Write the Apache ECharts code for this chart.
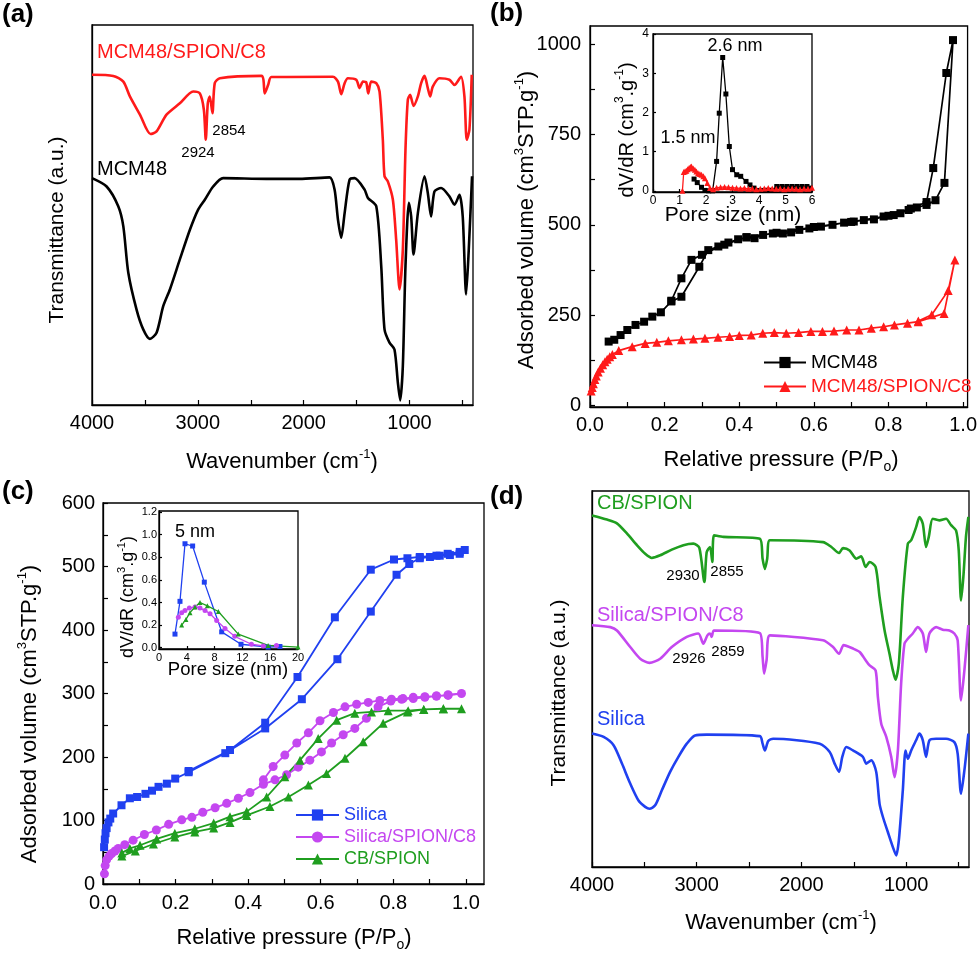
<!DOCTYPE html>
<html>
<head>
<meta charset="utf-8">
<script src="https://cdn.jsdelivr.net/npm/echarts@6/dist/echarts.min.js"></script>
<style>
  html, body { margin: 0; padding: 0; background: #fff; }
  #chart { width: 980px; height: 956px; }
</style>
</head>
<body>
<div id="chart"></div>
<script>
// ---- (a) FTIR, MCM48 series ----
var aRedWn = [4000,3799,3704,3642,3547,3447,3390,3296,3170,3044,2981,2943,2925,2906,2887,2862,2840,2792,2399,2368,2336,2305,1723,1676,1645,1613,1582,1503,1472,1440,1409,1390,1362,1314,1283,1252,1236,1204,1157,1126,1094,1063,1038,1016,994,962,921,890,858,827,805,780,717,623,575,513,481,459,434,412];
var aRedT = [86.9,86.6,85.1,81.2,76.4,71.3,72.0,76.4,79.4,82.5,82.0,77.7,69.8,79.4,81.2,76.8,84.7,86.0,86.6,82.0,84.2,86.3,86.4,85.1,81.8,84.7,86.0,85.6,83.4,85.1,84.9,82.0,85.1,84.7,82.5,69.8,60.2,58.8,54.0,43.5,30.4,40.9,67.2,80.3,81.6,78.7,81.2,84.7,86.6,83.4,81.2,83.8,86.0,85.6,84.2,86.4,81.2,69.8,72.4,86.9];
var aBlkWn = [4000,3862,3752,3704,3657,3579,3516,3453,3390,3327,3264,3170,3075,2997,2934,2855,2761,2352,2038,1755,1708,1676,1645,1613,1566,1519,1425,1393,1314,1267,1236,1189,1142,1110,1088,1063,1038,1006,984,962,921,858,827,796,764,701,623,575,528,497,465,440,409];
var aBlkT = [59.7,57.5,52.3,47.0,34.8,25.1,19.9,17.4,19.0,26.0,30.4,38.3,46.1,51.4,54.0,57.5,59.7,59.5,59.5,59.9,56.7,48.8,44.0,50.5,59.3,59.7,56.7,54.5,52.3,36.5,19.9,16.4,14.6,5.9,1.2,10.2,36.5,53.2,49.6,39.6,50.5,60.2,55.8,49.6,56.2,57.1,54.9,52.7,55.3,49.6,29.1,40.9,60.2];

// ---- (b) N2 isotherms ----
var mcmAdsP = [0.050,0.065,0.082,0.100,0.122,0.145,0.167,0.190,0.218,0.245,0.293,0.317,0.344,0.371,0.397,0.419,0.441,0.464,0.490,0.517,0.539,0.561,0.588,0.619,0.650,0.681,0.707,0.734,0.761,0.787,0.814,0.832,0.854,0.876,0.902,0.926,0.950,0.973];
var mcmAdsV = [177,182,195,209,223,232,246,258,288,301,384,430,440,451,460,465,463,472,476,476,479,486,490,495,500,506,509,513,515,523,527,532,541,548,555,568,616,1011];
var mcmDesP = [0.955,0.920,0.902,0.860,0.800,0.700,0.600,0.500,0.420,0.360,0.300,0.272,0.245,0.218];
var mcmDesV = [920,657,563,545,525,508,494,478,466,445,417,403,352,290];
var mspAdsP = [0.003,0.006,0.009,0.013,0.017,0.022,0.028,0.034,0.040,0.046,0.053,0.060,0.077,0.113,0.148,0.179,0.210,0.245,0.277,0.308,0.343,0.374,0.400,0.432,0.463,0.494,0.526,0.559,0.592,0.623,0.654,0.688,0.721,0.754,0.787,0.816,0.851,0.880,0.949,0.978];
var mspAdsV = [40,50,60,72,82,93,103,113,121,128,135,141,152,163,172,175,179,182,184,186,189,191,194,195,200,202,200,202,205,205,206,209,209,214,218,223,228,232,255,403];
var mspDesP = [0.960,0.916,0.880];
var mspDesV = [318,251,234];

// (b) inset, pore size distribution
var psdMcmR = [1.55,1.67,1.83,1.96,2.10,2.25,2.40,2.50,2.63,2.75,2.88,3.00,3.16,3.31,3.51,3.66,3.81,3.98,4.15,4.32,4.50,4.67,4.86,5.05,5.24,5.43,5.62,5.81,5.93];
var psdMcmV = [0.30,0.21,0.09,0.01,0,0,0.75,1.98,3.40,2.47,1.13,0.54,0.41,0.37,0.24,0.15,0.07,0.01,0.01,0.01,0.01,0.11,0.11,0.11,0.11,0.11,0.11,0.11,0.07];
var psdMspR = [1.11,1.16,1.21,1.26,1.31,1.36,1.41,1.45,1.52,1.58,1.64,1.70,1.77,1.83,1.90,1.96,2.05,2.15,2.27,2.40,2.55,2.70,2.85,3.00,3.15,3.30,3.45,3.60,3.75,3.90,4.05,4.20,4.35,4.50,4.65,4.80,4.95,5.10,5.25,5.40,5.55,5.70,5.85,6.00];
var psdMspV = [0,0.48,0.50,0.51,0.55,0.58,0.61,0.62,0.57,0.54,0.49,0.45,0.43,0.41,0.37,0.32,0.20,0.07,0.04,0.08,0.09,0.10,0.09,0.08,0.07,0.06,0.07,0.05,0.06,0.04,0.05,0.06,0.07,0.06,0.05,0.06,0.04,0.05,0.06,0.05,0.04,0.06,0.05,0.08];

// ---- (c) N2 isotherms ----
var silAdsP = [0.003,0.005,0.007,0.010,0.015,0.020,0.028,0.051,0.074,0.094,0.117,0.135,0.153,0.176,0.199,0.236,0.337,0.447,0.548,0.646,0.738,0.809,0.844,0.873,0.901,0.928,0.956,0.983,0.997];
var silAdsV = [58,70,80,88,97,103,111,124,135,137,142,147,153,158,166,176,206,245,291,354,429,487,504,513,515,517,518,520,526];
var silDesP = [0.983,0.950,0.919,0.873,0.839,0.802,0.738,0.639,0.536,0.447,0.350,0.236];
var silDesV = [523,520,517,515,513,511,495,420,326,254,211,178];
var sscAdsP = [0.004,0.006,0.010,0.017,0.024,0.033,0.042,0.060,0.083,0.114,0.147,0.181,0.217,0.245,0.275,0.309,0.341,0.373,0.405,0.442,0.474,0.506,0.538,0.570,0.602,0.630,0.662,0.694,0.726,0.758,0.793,0.823,0.855,0.887,0.919,0.951,0.988];
var sscAdsV = [16,29,38,44,48,52,56,62,69,78,85,94,101,105,113,120,127,135,144,157,164,172,184,195,208,222,235,245,261,279,288,291,292,294,296,297,300];
var sscDesP = [0.951,0.919,0.887,0.855,0.827,0.795,0.763,0.731,0.699,0.667,0.635,0.598,0.566,0.534,0.501,0.469,0.442];
var sscDesV = [298,296,295,294,292,291,289,286,283,279,270,257,238,222,203,185,164];
var cbAdsP = [0.052,0.089,0.139,0.198,0.253,0.305,0.350,0.396,0.460,0.511,0.566,0.616,0.667,0.717,0.772,0.839,0.884,0.938,0.988];
var cbAdsV = [44,52,63,74,82,88,97,108,122,137,156,174,198,224,253,271,275,276,276];
var cbDesP = [0.938,0.884,0.841,0.786,0.740,0.694,0.644,0.593,0.543,0.501,0.451,0.396,0.350,0.305,0.253,0.198,0.148,0.102,0.074,0.052];
var cbDesV = [276,275,273,273,271,269,258,229,195,169,137,114,106,96,87,80,71,61,56,49];

// (c) inset
var psdSilR = [2.30,3.02,3.74,4.84,6.52,9.02,11.8,15.7,17.4];
var psdSilV = [0.12,0.41,0.92,0.90,0.58,0.14,0.03,0.005,0.01];
var psdSscR = [2.78,3.26,3.74,4.37,5.18,5.9,6.62,7.34,8.3,9.5,10.9,13.3,15.0,16.9];
var psdSscV = [0.27,0.31,0.33,0.35,0.36,0.35,0.33,0.30,0.24,0.17,0.10,0.03,0.015,0.02];
var psdCbR = [3.26,3.88,4.46,5.18,5.9,6.96,8.54,11.4,15.7,20];
var psdCbV = [0.20,0.25,0.31,0.36,0.40,0.37,0.32,0.12,0.02,0.005];

// ---- (d) FTIR ----
var dCbWn = [4000,3857,3762,3667,3571,3492,3429,3349,3238,3127,3032,2975,2927,2905,2873,2851,2835,2746,2397,2371,2349,2327,2302,1794,1714,1641,1603,1540,1476,1429,1387,1349,1292,1254,1206,1159,1127,1102,1070,1032,984,952,905,873,841,810,784,746,683,619,571,524,498,476,454,429,406];
var dCbT = [93.5,92.4,91.4,88.7,85.6,83.3,82.2,82.9,84.4,85.6,86.0,84.9,75.8,83.7,85.1,81.1,88.2,87.8,87.3,82.0,79.3,82.0,86.9,86.4,85.1,83.5,84.8,84.2,82.0,82.6,79.8,81.1,79.8,71.8,62.9,56.7,52.3,49.8,54.1,71.8,86.0,86.9,90.4,93.1,91.3,85.1,87.8,92.6,92.2,92.6,90.9,89.5,84.2,70.9,77.1,87.8,93.1];
var dSscWn = [4000,3825,3762,3635,3540,3451,3349,3238,3095,2984,2937,2898,2873,2857,2835,2397,2371,2356,2333,2302,1794,1698,1641,1597,1508,1444,1387,1349,1292,1270,1238,1190,1143,1111,1079,1048,1016,984,937,889,841,810,778,714,651,587,540,508,476,444,406];
var dSscT = [64.3,63.8,62.9,58.5,55.4,54.3,55.4,58.5,61.2,62.1,59.4,61.6,62.1,61.2,62.9,62.2,55.9,51.4,55.0,61.6,60.3,58.5,56.7,59.0,58.1,57.2,55.0,53.6,52.3,45.2,38.1,34.6,29.3,23.9,31.0,48.8,59.4,60.7,62.1,63.8,62.1,57.2,62.1,63.8,63.1,62.9,62.1,60.3,44.3,52.3,64.3];
var dSilWn = [4000,3889,3794,3714,3635,3556,3492,3451,3397,3333,3254,3175,3095,3016,2905,2397,2371,2349,2317,2270,1825,1730,1683,1641,1610,1571,1508,1413,1381,1333,1286,1254,1222,1175,1127,1095,1070,1032,1006,984,952,905,873,841,810,778,714,619,540,508,476,444,406];
var dSilT = [35.5,34.6,32.4,27.5,22.2,17.7,16.0,15.5,16.4,20.4,25.3,29.3,32.8,35.0,35.2,34.8,32.8,31.0,33.5,34.1,32.8,30.6,27.5,25.3,29.3,31.9,31.0,29.3,27.5,28.4,25.3,16.8,13.3,9.3,5.3,3.1,7.1,20.4,31.0,28.8,31.0,33.7,35.5,33.7,29.3,33.7,34.1,34.1,33.2,30.1,19.5,25.7,35.5];

// tick positions
var irTicks = [500,1000,1500,2000,2500,3000,3500,4000];
var irLabels = [1000,2000,3000,4000];
var pTicks = [0,0.1,0.2,0.3,0.4,0.5,0.6,0.7,0.8,0.9,1.0];
var pLabels = [0,0.2,0.4,0.6,0.8,1.0];
var bYTicks = [0,125,250,375,500,625,750,875,1000];
var bYLabels = [0,250,500,750,1000];
var cYTicks = [0,50,100,150,200,250,300,350,400,450,500,550,600];
var cYLabels = [0,100,200,300,400,500,600];
var bInXLabels = [0,1,2,3,4,5,6];
var bInYLabels = [0,1,2,3,4];
var cInXLabels = [0,4,8,12,16,20];
var cInYLabels = [0,0.2,0.4,0.6,0.8,1.0,1.2];

var FONT = '"Liberation Sans", Arial, Helvetica, sans-serif';
var RED = '#ff1a1a', BLUE = '#2040f0', MAG = '#c447f0', GREEN = '#1f9e1f';

function pairs(xs, ys) { return xs.map(function (x, i) { return [x, ys[i]]; }); }

function axis(dim, g, min, max, ticks, labels, o) {
  o = o || {};
  return {
    type: 'value', gridIndex: g, min: min, max: max, inverse: !!o.inverse,
    position: dim === 'x' ? 'bottom' : 'left',
    axisLine: { show: true, onZero: false, lineStyle: { color: '#000', width: 1.3 } },
    axisTick: ticks ? { show: true, inside: true, length: o.tickLen || 5, customValues: ticks,
      lineStyle: { color: '#000', width: 1.2 } } : { show: false },
    axisLabel: labels ? { show: true, customValues: labels, formatter: o.fmt, fontSize: o.size || 20,
      color: '#000', margin: o.margin || 8, fontFamily: FONT } : { show: false },
    splitLine: { show: false }, minorTick: { show: false }
  };
}

function ir(name, wn, t, color, g) {
  return { name: name, type: 'line', xAxisIndex: g, yAxisIndex: g, data: pairs(wn, t),
    symbol: 'none', smooth: 0.25, lineStyle: { color: color, width: 2.6 }, itemStyle: { color: color } };
}

function iso(name, xs, ys, color, sym, size, g, w) {
  return { name: name, type: 'line', xAxisIndex: g, yAxisIndex: g, data: pairs(xs, ys),
    symbol: sym, symbolSize: size, showAllSymbol: true,
    lineStyle: { color: color, width: w || 1.6 }, itemStyle: { color: color } };
}

function txt(s, x, y, size, color, o) {
  o = o || {};
  var lh = Math.round(size * 1.3);
  return { type: 'text', x: x, y: y, rotation: o.rot || 0, z: 100, silent: true,
    style: { text: s, fill: color, fontSize: size, fontFamily: FONT, fontWeight: o.bold ? 'bold' : 'normal',
      align: o.align || 'left', verticalAlign: 'middle', textAlign: o.align || 'left', textVerticalAlign: 'middle',
      lineHeight: lh,
      rich: {
        sup: { fontSize: Math.round(size * 0.6), fill: color, fontFamily: FONT, verticalAlign: 'top' },
        sub: { fontSize: Math.round(size * 0.65), fill: color, fontFamily: FONT, verticalAlign: 'bottom' }
      } } };
}

var f1 = function (v) { return v.toFixed(1); };
var f0 = function (v) { return String(Math.round(v)); };

var grids = [
  { left: 92, top: 25, width: 381, height: 380 },
  { left: 590, top: 26, width: 381, height: 381 },
  { left: 653, top: 34, width: 159, height: 158 },
  { left: 103, top: 503, width: 381, height: 381 },
  { left: 159, top: 511, width: 139, height: 138 },
  { left: 592, top: 491, width: 377, height: 376 }
].map(function (g) {
  g.show = true; g.borderColor = '#000'; g.borderWidth = 1.3; g.backgroundColor = '#fff'; g.containLabel = false;
  return g;
});

var chart = echarts.init(document.getElementById('chart'), null, { renderer: 'canvas' });
chart.setOption({
  animation: false,
  backgroundColor: '#fff',
  textStyle: { fontFamily: FONT },
  grid: grids,
  xAxis: [
    axis('x', 0, 400, 4000, irTicks, irLabels, { inverse: true, fmt: f0 }),
    axis('x', 1, 0, 1.012, pTicks, pLabels, { fmt: f1, margin: 8 }),
    axis('x', 2, 0, 6, bInXLabels, bInXLabels, { fmt: f0, size: 12, margin: 3, tickLen: 3 }),
    axis('x', 3, 0, 1.05, pTicks, pLabels, { fmt: f1, margin: 9 }),
    axis('x', 4, 0, 20, cInXLabels, cInXLabels, { fmt: f0, size: 11, margin: 3, tickLen: 3 }),
    axis('x', 5, 400, 4000, irTicks, irLabels, { inverse: true, fmt: f0 })
  ],
  yAxis: [
    axis('y', 0, 0, 100, null, null),
    axis('y', 1, -4, 1050, bYTicks, bYLabels, { fmt: f0, margin: 9 }),
    axis('y', 2, -0.03, 4, bInYLabels, bInYLabels, { fmt: f0, size: 12, margin: 4, tickLen: 3 }),
    axis('y', 3, 0, 600, cYTicks, cYLabels, { fmt: f0, margin: 8 }),
    axis('y', 4, -0.012, 1.21, cInYLabels, cInYLabels, { fmt: f1, size: 11, margin: 2, tickLen: 3 }),
    axis('y', 5, 0, 100, null, null)
  ],
  legend: [
    { orient: 'vertical', left: 758, top: 348, itemWidth: 42, itemHeight: 14, itemGap: 5,
      textStyle: { fontSize: 19, fontFamily: FONT },
      data: [{ name: 'MCM48', textStyle: { color: '#000' } },
             { name: 'MCM48/SPION/C8', textStyle: { color: RED } }] },
    { orient: 'vertical', left: 290, top: 801, itemWidth: 43, itemHeight: 14, itemGap: 4,
      textStyle: { fontSize: 18, fontFamily: FONT },
      data: [{ name: 'Silica', textStyle: { color: BLUE } },
             { name: 'Silica/SPION/C8', textStyle: { color: MAG } },
             { name: 'CB/SPION', textStyle: { color: GREEN } }] }
  ],
  series: [
    ir('MCM48 IR', aBlkWn, aBlkT, '#000', 0),
    ir('MCM48/SPION/C8 IR', aRedWn, aRedT, RED, 0),
    iso('MCM48', mcmAdsP.concat(mcmDesP), mcmAdsV.concat(mcmDesV), '#000', 'rect', 8, 1, 1.7),
    iso('MCM48/SPION/C8', mspAdsP.concat(mspDesP), mspAdsV.concat(mspDesV), RED, 'triangle', 9, 1, 1.7),
    iso('MCM48 PSD', psdMcmR, psdMcmV, '#000', 'rect', 5, 2, 1.3),
    iso('MCM48/SPION/C8 PSD', psdMspR, psdMspV, RED, 'triangle', 6, 2, 1.3),
    iso('Silica', silAdsP.concat(silDesP), silAdsV.concat(silDesV), BLUE, 'rect', 8, 3, 1.8),
    iso('Silica/SPION/C8', sscAdsP.concat(sscDesP), sscAdsV.concat(sscDesV), MAG, 'circle', 9, 3, 1.8),
    iso('CB/SPION', cbAdsP.concat(cbDesP), cbAdsV.concat(cbDesV), GREEN, 'triangle', 9, 3, 1.8),
    iso('Silica PSD', psdSilR, psdSilV, BLUE, 'rect', 5, 4, 1.3),
    iso('Silica/SPION/C8 PSD', psdSscR, psdSscV, MAG, 'circle', 5, 4, 1.3),
    iso('CB/SPION PSD', psdCbR, psdCbV, GREEN, 'triangle', 5, 4, 1.3),
    ir('CB/SPION IR', dCbWn, dCbT, GREEN, 5),
    ir('Silica/SPION/C8 IR', dSscWn, dSscT, MAG, 5),
    ir('Silica IR', dSilWn, dSilT, BLUE, 5)
  ],
  graphic: [
    txt('(a)', 2, 15, 26, '#000', { bold: true }),
    txt('(b)', 490, 14, 26, '#000', { bold: true }),
    txt('(c)', 2, 492, 26, '#000', { bold: true }),
    txt('(d)', 490, 497, 26, '#000', { bold: true }),
    // panel a
    txt('MCM48/SPION/C8', 97, 52, 20, RED),
    txt('MCM48', 97, 169, 20, '#000'),
    txt('2924', 198, 153, 15, '#000', { align: 'center' }),
    txt('2854', 229, 131, 15, '#000', { align: 'center' }),
    txt('Transmittance (a.u.)', 57, 230, 21, '#000', { align: 'center', rot: Math.PI / 2 }),
    txt('Wavenumber (cm{sup|-1})', 282, 462, 22, '#000', { align: 'center' }),
    // panel b
    txt('Adsorbed volume (cm{sup|3}STP.g{sup|-1})', 527, 220, 22, '#000', { align: 'center', rot: Math.PI / 2 }),
    txt('Relative pressure (P/P{sub|o})', 781, 460, 22, '#000', { align: 'center' }),
    txt('dV/dR (cm{sup|3}.g{sup|-1})', 627, 130, 20, '#000', { align: 'center', rot: Math.PI / 2 }),
    txt('Pore size (nm)', 733, 215, 21, '#000', { align: 'center' }),
    txt('2.6 nm', 735, 46, 18, '#000', { align: 'center' }),
    txt('1.5 nm', 688, 138, 18, '#000', { align: 'center' }),
    // panel c
    txt('Adsorbed volume (cm{sup|3}STP.g{sup|-1})', 30, 714, 22, '#000', { align: 'center', rot: Math.PI / 2 }),
    txt('Relative pressure (P/P{sub|o})', 294, 938, 22, '#000', { align: 'center' }),
    txt('dV/dR (cm{sup|3}.g{sup|-1})', 128, 597, 18, '#000', { align: 'center', rot: Math.PI / 2 }),
    txt('Pore size (nm)', 228, 670, 18.5, '#000', { align: 'center' }),
    txt('5 nm', 195, 532, 18, '#000', { align: 'center' }),
    // panel d
    txt('CB/SPION', 597, 503, 20, GREEN),
    txt('Silica/SPION/C8', 597, 615, 20, MAG),
    txt('Silica', 597, 719, 20, BLUE),
    txt('2930', 683, 576, 15, '#000', { align: 'center' }),
    txt('2855', 727, 572, 15, '#000', { align: 'center' }),
    txt('2926', 689, 659, 15, '#000', { align: 'center' }),
    txt('2859', 728, 652, 15, '#000', { align: 'center' }),
    txt('Transmittance (a.u.)', 559, 693, 21, '#000', { align: 'center', rot: Math.PI / 2 }),
    txt('Wavenumber (cm{sup|-1})', 781, 923, 22, '#000', { align: 'center' })
  ]
});
</script>
</body>
</html>
